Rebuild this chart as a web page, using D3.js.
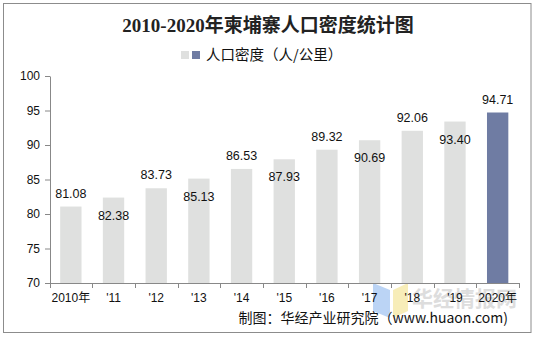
<!DOCTYPE html>
<html><head><meta charset="utf-8">
<script src="https://cdn.jsdelivr.net/npm/d3@7/dist/d3.min.js"></script>
<style>body{margin:0;background:#fff}svg{display:block}</style>
</head><body>
<script>
const categories = ["2010年","'11","'12","'13","'14","'15","'16","'17","'18","'19","2020年"];
const values = [81.08,82.38,83.73,85.13,86.53,87.93,89.32,90.69,92.06,93.40,94.71];
const yTicks = [70,75,80,85,90,95,100];
const title = "2010-2020年柬埔寨人口密度统计图";
const legendLabel = "人口密度（人/公里）";
const source = "制图：华经产业研究院（www.huaon.com)";

const W = 537, H = 339;
const svg = d3.select("body").append("svg").attr("width", W).attr("height", H);
svg.append("rect").attr("x",3.5).attr("y",3.5).attr("width",527.5).attr("height",329)
  .attr("fill","#fff").attr("stroke","#8c8c8c").attr("stroke-width",1);

const x = d3.scaleBand().domain(categories).range([49.5,519]).paddingInner(0.5).paddingOuter(0.25);
const y = d3.scaleLinear().domain([70,100]).range([283,76]);

svg.append("text").attr("x",268).attr("y",32).attr("text-anchor","middle")
  .attr("font-family","'Liberation Serif','Noto Sans CJK SC',serif").attr("font-weight","bold")
  .attr("font-size",19).attr("fill","#222").text(title);

// legend
svg.append("rect").attr("x",181).attr("y",51).attr("width",8).attr("height",8).attr("fill","#dfe0df");
svg.append("rect").attr("x",192).attr("y",51).attr("width",8).attr("height",8).attr("fill","#6f7ca3");
svg.append("text").attr("x",206).attr("y",60).attr("font-family","'Noto Sans CJK SC',sans-serif")
  .attr("font-size",14.5).attr("fill","#111").text(legendLabel);

// watermark
const wm = svg.append("g").attr("opacity",0.6);
wm.append("path").attr("d","M373,283 L390,290 L390,318 L373,311 Z").attr("fill","#8fb8f0");
wm.append("path").attr("d","M393,290 L408,283 L408,311 L393,318 Z").attr("fill","#f3e28a");
wm.append("text").attr("x",412).attr("y",306).attr("font-family","'Noto Sans CJK SC',sans-serif")
  .attr("font-weight","bold").attr("font-size",21).attr("fill","#c8c8c8").text("华经情报网");

// bars
svg.selectAll("rect.bar").data(values).enter().append("rect").attr("class","bar")
  .attr("x",(d,i)=>x(categories[i])).attr("width",x.bandwidth())
  .attr("y",d=>y(d)).attr("height",d=>y(70)-y(d))
  .attr("fill",(d,i)=> i===values.length-1 ? "#6f7ca3" : "#dfe0df");

// labels
svg.selectAll("text.lbl").data(values).enter().append("text").attr("class","lbl")
  .attr("x",(d,i)=>x(categories[i])+x.bandwidth()/2)
  .attr("y",(d,i)=> i%2===0 ? y(d)-9 : y(d)+22)
  .attr("text-anchor","middle").attr("font-family","'Liberation Sans',Arial,sans-serif")
  .attr("font-size",12.5).attr("fill","#111").text(d=>d.toFixed(2));

// y axis
const yAxis = svg.append("g").attr("transform","translate(50,0)")
  .call(d3.axisLeft(y).tickValues(yTicks).tickSize(5).tickSizeOuter(0));
yAxis.select(".domain").attr("stroke","#888");
yAxis.selectAll(".tick line").attr("stroke","#888");
yAxis.selectAll(".tick text").attr("font-family","'Liberation Sans',Arial,sans-serif")
  .attr("font-size",12).attr("fill","#111").attr("x",-10);

// x axis
const step = x.step();
const xAxis = svg.append("g").attr("transform","translate(0,283)");
xAxis.append("line").attr("x1",49.5).attr("x2",519).attr("y1",0.5).attr("y2",0.5).attr("stroke","#888");
const bounds = d3.range(categories.length+1).map(k => x(categories[0]) - x.paddingOuter()*step + k*step);
xAxis.selectAll("line.t").data(bounds).enter().append("line").attr("class","t")
  .attr("x1",d=>Math.round(d)+0.5).attr("x2",d=>Math.round(d)+0.5).attr("y1",0).attr("y2",5).attr("stroke","#888");
xAxis.selectAll("text").data(categories).enter().append("text")
  .attr("x",d=>x(d)+x.bandwidth()/2).attr("y",19).attr("text-anchor","middle")
  .attr("font-family","'Liberation Sans','Noto Sans CJK SC',sans-serif").attr("font-size",12)
  .attr("fill","#111").text(d=>d);

svg.append("text").attr("x",508).attr("y",323).attr("text-anchor","end")
  .attr("font-family","'Noto Sans CJK SC',sans-serif").attr("font-size",14).attr("fill","#111").text(source);
</script>
</body></html>
